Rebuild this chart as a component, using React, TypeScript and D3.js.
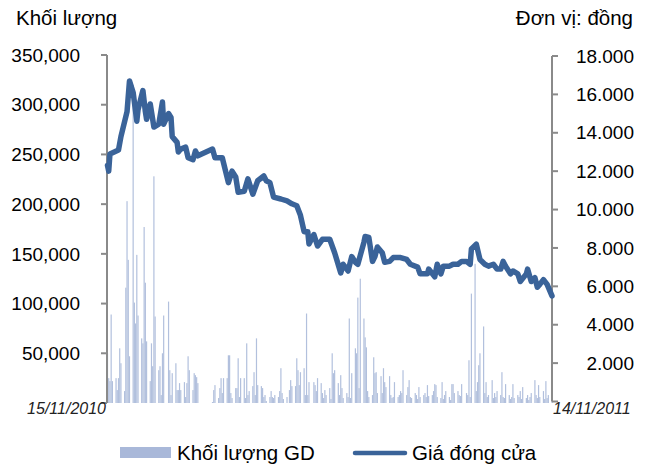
import React from "react";
import * as d3 from "d3";

// ---- data ----
const START_DATE = "2010-11-15";
const END_DATE = "2011-11-14";
const HOLIDAYS = [
  "2011-01-03", "2011-01-31", "2011-02-01", "2011-02-02", "2011-02-03", "2011-02-04",
  "2011-02-07", "2011-02-08", "2011-04-12", "2011-05-02", "2011-09-02",
];

// trading volume (thousand shares), one per trading day, month by month
const volumeK = [
  // Nov 2010
  50, 25, 22, 89, 22, 25, 13, 25, 55, 40, 12, 116,
  // Dec 2010
  203, 144, 47, 320, 101, 80, 149, 88, 65, 60, 177, 121, 62, 22, 60, 37, 228, 87, 33, 37, 8, 50, 88,
  // Jan 2011
  102, 33, 8, 30, 40, 13, 13, 20, 13, 21, 6, 20, 47, 33, 13, 30, 28, 26, 20,
  // Feb 2011
  1, 13, 18, 5, 15, 25, 10, 25, 25, 48, 48, 10, 5, 15,
  // Mar 2011
  15, 45, 6, 25, 25, 5, 60, 8, 12, 17, 31, 8, 65, 18, 17, 15, 6, 8, 2, 6, 12, 6, 5,
  // Apr 2011
  8, 6, 12, 35, 10, 4, 6, 13, 23, 17, 17, 45, 33, 18, 31, 35, 8, 90, 8, 21,
  // May 2011
  21, 18, 12, 25, 20, 10, 5, 13, 8, 15, 4, 50, 30, 33, 20, 8, 28, 15, 5, 10, 6,
  // Jun 2011
  85, 5, 30, 55, 50, 106, 15, 125, 85, 66, 56, 12, 6, 8, 46, 30, 31, 10, 27, 10, 35, 21,
  // Jul 2011
  16, 27, 8, 5, 6, 21, 6, 8, 12, 10, 33, 8, 16, 23, 6, 5, 10, 8, 4, 16, 6,
  // Aug 2011
  8, 10, 6, 18, 7, 8, 12, 19, 18, 6, 5, 21, 4, 8, 12, 6, 3, 19, 19, 10, 12, 8, 7,
  // Sep 2011
  19, 10, 8, 43, 6, 110, 140, 12, 21, 38, 50, 77, 10, 21, 6, 8, 23, 5, 10, 6, 12,
  // Oct 2011
  8, 31, 6, 5, 19, 8, 4, 6, 19, 5, 8, 6, 12, 4, 16, 5, 8, 3, 6, 10, 23,
  // Nov 2011
  8, 5, 18, 6, 12, 4, 22, 5, 8, 20,
];

const priceDates = [
  "2010-11-15", "2010-11-16", "2010-11-17", "2010-11-24", "2010-11-26", "2010-12-01", "2010-12-03",
  "2010-12-06", "2010-12-09", "2010-12-10", "2010-12-14", "2010-12-16", "2010-12-17", "2010-12-20",
  "2010-12-23", "2010-12-27", "2010-12-30", "2010-12-31", "2011-01-04", "2011-01-06", "2011-01-07",
  "2011-01-11", "2011-01-12", "2011-01-14", "2011-01-18", "2011-01-20", "2011-01-24", "2011-01-26",
  "2011-01-28", "2011-02-09", "2011-02-11", "2011-02-17", "2011-02-22", "2011-02-25", "2011-02-28",
  "2011-03-02", "2011-03-07", "2011-03-10", "2011-03-14", "2011-03-18", "2011-03-23", "2011-03-25",
  "2011-03-28", "2011-03-31", "2011-04-06", "2011-04-11", "2011-04-15", "2011-04-19", "2011-04-22",
  "2011-04-25", "2011-04-28", "2011-04-29", "2011-05-03", "2011-05-06", "2011-05-10", "2011-05-16",
  "2011-05-20", "2011-05-25", "2011-05-27", "2011-05-31", "2011-06-03", "2011-06-06", "2011-06-08",
  "2011-06-13", "2011-06-14", "2011-06-17", "2011-06-20", "2011-06-22", "2011-06-24", "2011-06-28",
  "2011-06-30", "2011-07-04", "2011-07-07", "2011-07-13", "2011-07-18", "2011-07-21", "2011-07-27",
  "2011-07-29", "2011-08-04", "2011-08-05", "2011-08-10", "2011-08-12", "2011-08-15", "2011-08-17",
  "2011-08-22", "2011-08-25", "2011-08-29", "2011-09-01", "2011-09-05", "2011-09-08", "2011-09-09",
  "2011-09-13", "2011-09-16", "2011-09-20", "2011-09-23", "2011-09-27", "2011-09-30", "2011-10-03",
  "2011-10-05", "2011-10-07", "2011-10-11", "2011-10-13", "2011-10-17", "2011-10-19", "2011-10-24",
  "2011-10-25", "2011-10-28", "2011-10-31", "2011-11-02", "2011-11-04", "2011-11-07", "2011-11-10",
  "2011-11-14",
];
const priceValues = [
  12300, 12000, 12900, 13100, 13800, 15100, 16700,
  16100, 14600, 15200, 16200, 15100, 14700, 15500,
  14300, 14450, 15600, 14450, 15000, 14800, 13800,
  13500, 13000, 13150, 13250, 12700, 12600, 13050,
  12800, 13150, 12700, 12700, 11400, 12000, 11700,
  10900, 10950, 11600, 10800, 11500, 11750, 11500,
  11400, 10650, 10550, 10450, 10300, 10200, 9700,
  8850, 8850, 8200, 8700, 8100, 8450, 8450,
  7750, 6700, 7150, 6800, 7550, 7250, 7150,
  8300, 8600, 8550, 7300, 7550, 8050, 7750,
  7250, 7300, 7500, 7500, 7400, 7150, 7000,
  6650, 6650, 6900, 6500, 7150, 6650, 7050,
  7050, 7150, 7150, 7300, 7300, 7150, 7950,
  8200, 7400, 7150, 7050, 7150, 6900, 6900,
  7300, 7050, 6650, 6800, 6650, 6250, 6650,
  6900, 6250, 6450, 5950, 6100, 6350, 6100,
  5500,
];

const volumeTicks = [0, 50000, 100000, 150000, 200000, 250000, 300000, 350000];
const priceTicks = [0, 2000, 4000, 6000, 8000, 10000, 12000, 14000, 16000, 18000];
const xLabels = ["15/11/2010", "14/11/2011"];
const leftTitle = "Khối lượng";
const rightTitle = "Đơn vị: đồng";
const legendLabels = ["Khối lượng GD", "Giá đóng cửa"];

// ---- build ----
const parse = d3.timeParse("%Y-%m-%d");
const fmtDay = d3.timeFormat("%Y-%m-%d");

const tradingDays: Date[] = (() => {
  const holidaySet = new Set(HOLIDAYS);
  return d3.timeDay
    .range(parse(START_DATE)!, d3.timeDay.offset(parse(END_DATE)!, 1))
    .filter((d) => d.getDay() !== 0 && d.getDay() !== 6 && !holidaySet.has(fmtDay(d)));
})();

const volumeData = tradingDays.map((d, i) => ({ date: d, value: (volumeK[i] ?? 0) * 1000 }));
const priceData = priceDates.map((s, i) => ({ date: parse(s)!, value: priceValues[i] }));

const FONT = "'Liberation Sans', Arial, sans-serif";
const AXIS_COLOR = "#8a8a8a";
const LINE_COLOR = "#3a6399";
const BAR_COLOR = "#b2c0dd";

export default function App() {
  const x = d3.scaleTime().domain([parse(START_DATE)!, parse(END_DATE)!]).range([107.5, 552]);
  const yVol = d3.scaleLinear().domain([0, 350000]).range([403, 55]);
  const yPrice = d3.scaleLinear().domain([0, 18000]).range([401.5, 56]);

  const fmtLeft = d3.format(",");
  const viLocale = d3.formatLocale({ decimal: ",", thousands: ".", grouping: [3], currency: ["", "đ"] });
  const fmtRight = viLocale.format(",");

  const line = d3
    .line<{ date: Date; value: number }>()
    .x((d) => x(d.date))
    .y((d) => yPrice(d.value))
    .curve(d3.curveLinear);

  const xL = 107;
  const xR = 552;

  return (
    <svg
      width={651}
      height={465}
      style={{ position: "absolute", left: 0, top: 0, display: "block", background: "#fff" }}
      fontFamily={FONT}
    >
      {/* titles */}
      <text x={16} y={25} fontSize={20.5} fill="#000">
        {leftTitle}
      </text>
      <text x={633} y={25} fontSize={20.5} fill="#000" textAnchor="end">
        {rightTitle}
      </text>

      {/* volume bars */}
      <g>
        {volumeData.map((d, i) => (
          <rect
            key={i}
            x={x(d.date) - 0.6}
            y={yVol(d.value)}
            width={1.2}
            height={Math.max(0, yVol(0) - yVol(d.value))}
            fill={BAR_COLOR}
          />
        ))}
      </g>

      {/* left axis */}
      <line x1={xL} x2={xL} y1={yVol(350000)} y2={yVol(0)} stroke={AXIS_COLOR} strokeWidth={2} />
      {volumeTicks.map((t) => (
        <g key={"l" + t}>
          <line x1={xL - 6} x2={xL} y1={yVol(t)} y2={yVol(t)} stroke={AXIS_COLOR} strokeWidth={2} />
          {t > 0 && (
            <text x={80} y={yVol(t)} dy="0.35em" textAnchor="end" fontSize={19} fill="#000">
              {fmtLeft(t)}
            </text>
          )}
        </g>
      ))}

      {/* right axis */}
      <line x1={xR} x2={xR} y1={yPrice(18000)} y2={yPrice(0)} stroke={AXIS_COLOR} strokeWidth={2} />
      {priceTicks.map((t) => (
        <g key={"r" + t}>
          <line x1={xR} x2={xR + 6} y1={yPrice(t)} y2={yPrice(t)} stroke={AXIS_COLOR} strokeWidth={2} />
          {t > 0 && (
            <text x={634} y={yPrice(t)} dy="0.35em" textAnchor="end" fontSize={19} fill="#000">
              {fmtRight(t)}
            </text>
          )}
        </g>
      ))}

      {/* price line */}
      <path
        d={line(priceData) ?? ""}
        fill="none"
        stroke={LINE_COLOR}
        strokeWidth={5.5}
        strokeLinejoin="round"
        strokeLinecap="round"
      />

      {/* x labels */}
      <text x={106} y={414} textAnchor="end" fontSize={16} fontStyle="italic" fill="#222">
        {xLabels[0]}
      </text>
      <text x={553} y={414} textAnchor="start" fontSize={16} fontStyle="italic" fill="#222">
        {xLabels[1]}
      </text>

      {/* legend */}
      <rect x={120} y={447} width={51} height={11} fill="#a9b8d9" />
      <text x={177} y={453} dy="0.35em" fontSize={20.5} fill="#000">
        {legendLabels[0]}
      </text>
      <line x1={355} x2={405} y1={453} y2={453} stroke={LINE_COLOR} strokeWidth={4.5} strokeLinecap="round" />
      <text x={412} y={453} dy="0.35em" fontSize={20.5} fill="#000">
        {legendLabels[1]}
      </text>
    </svg>
  );
}
